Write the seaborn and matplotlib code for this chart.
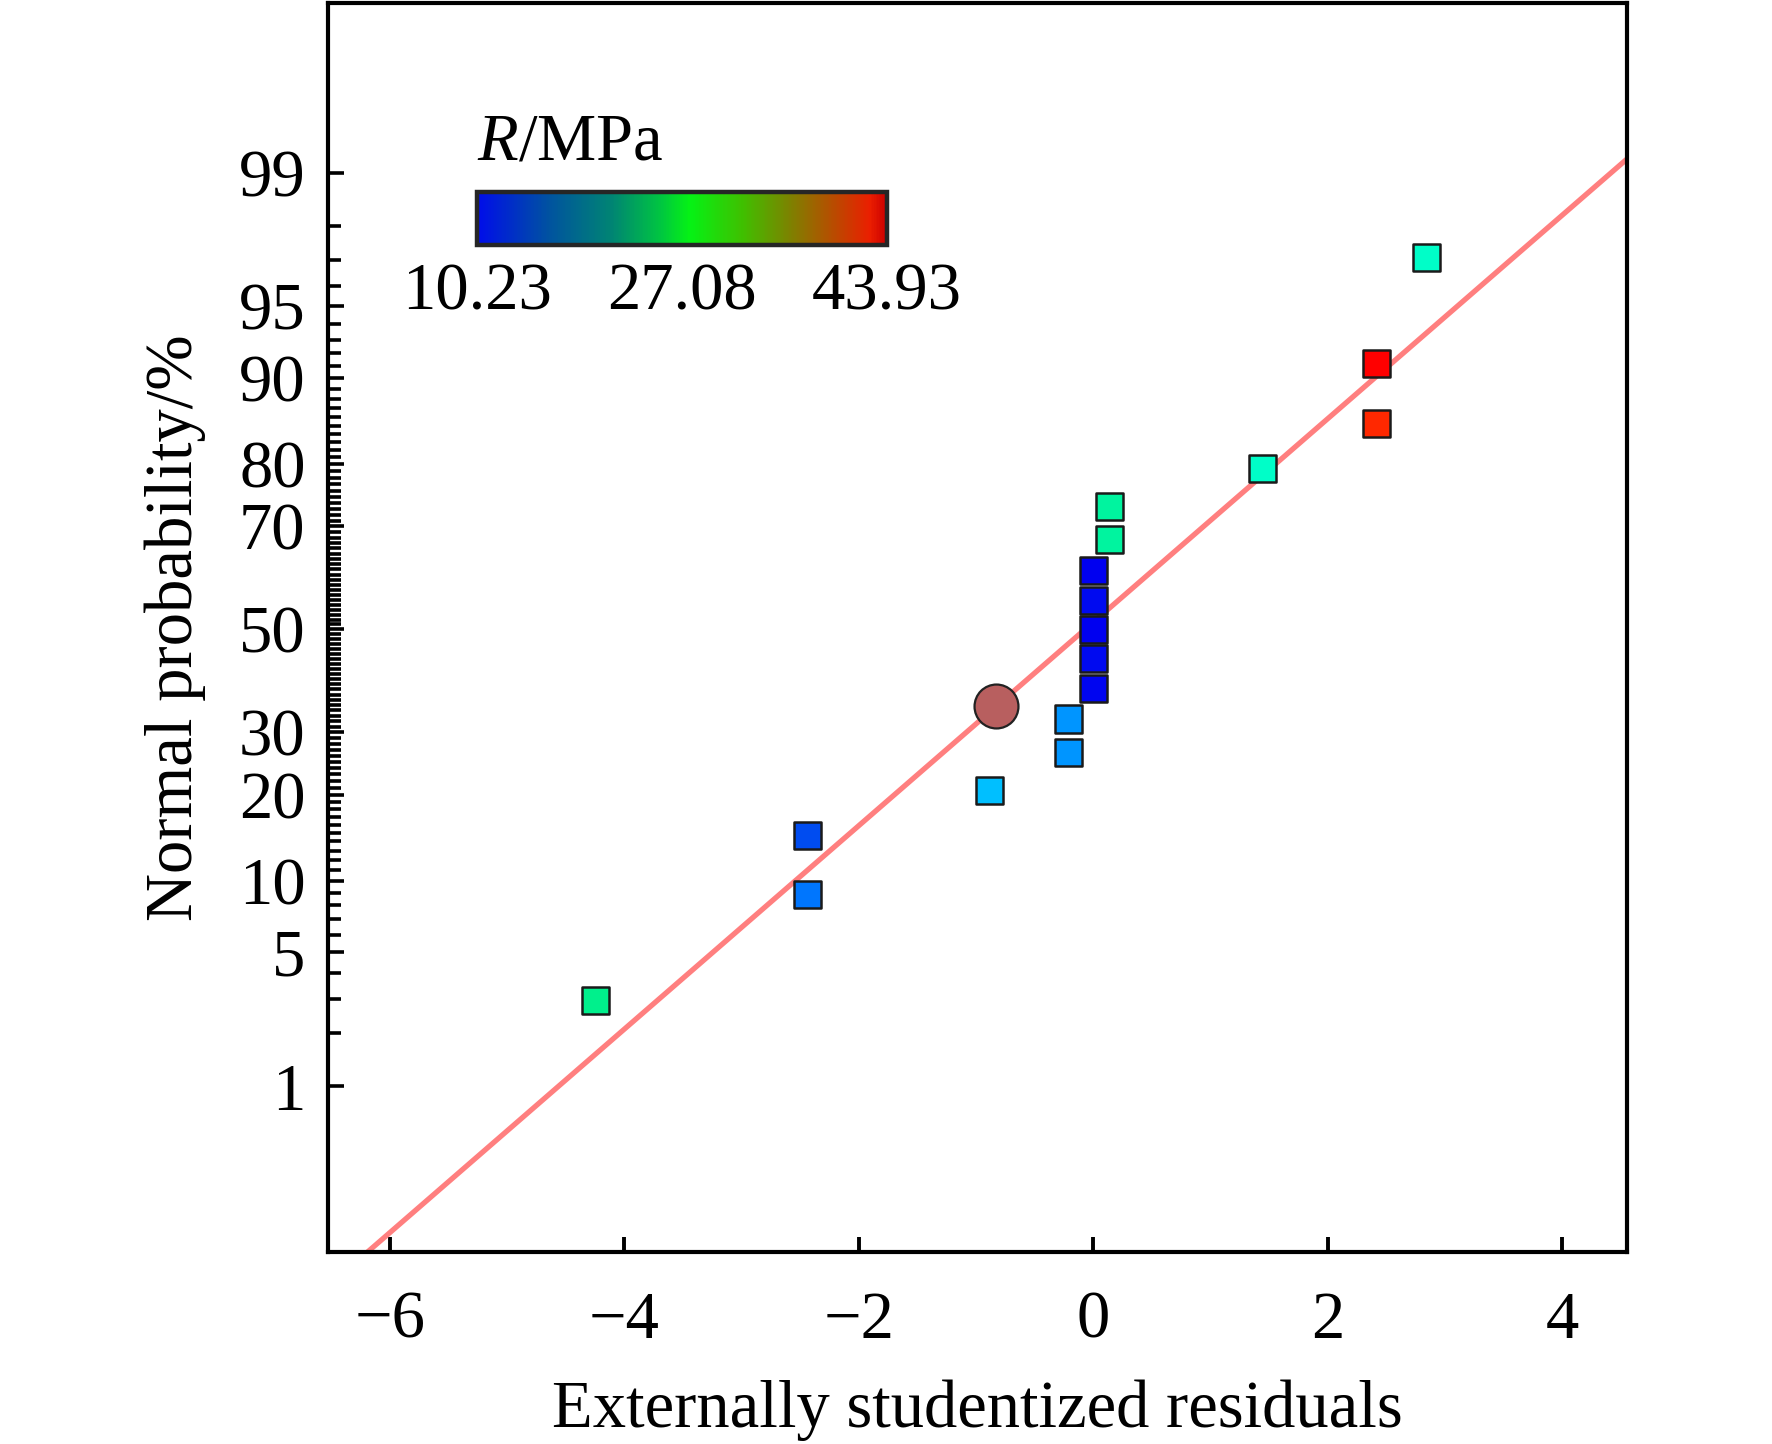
import math
import numpy as np
import pandas as pd
import matplotlib
matplotlib.use("Agg")
import matplotlib.pyplot as plt
import seaborn as sns
from matplotlib.colors import LinearSegmentedColormap, Normalize
from matplotlib.ticker import FixedLocator, FixedFormatter

# Externally studentized residuals and normal probability (%) of each run
residuals = [-4.25, -2.44, -2.44, -0.886, -0.212, -0.212, 0.0, 0.0, 0.0, 0.0, 0.0,
             0.135, 0.135, 1.445, 2.418, 2.418, 2.84]
probability = [2.94, 8.82, 14.7, 20.6, 26.5, 32.4, 38.2, 44.1, 50.0, 55.9, 61.8,
               67.6, 73.5, 79.4, 85.3, 91.2, 97.1]
# response R (MPa) used for the colour of each point
strength = [23.7, 13.6, 12.4, 17.0, 15.0, 15.0, 10.4, 10.6, 10.3, 10.5, 10.23,
            22.7, 22.7, 20.3, 40.6, 43.93, 20.3]

# highlighted point
circle_x = [-0.83]
circle_p = [34.9]

# fitted normal line (mean and sd of residuals)
line_mu = -0.071
line_sigma = 1.93

r_min, r_mid, r_max = 10.23, 27.08, 43.93
y_major = [1, 5, 10, 20, 30, 50, 70, 80, 90, 95, 99]
y_minor = list(range(1, 100))
x_ticks = [-6, -4, -2, 0, 2, 4]

_erf = np.vectorize(math.erf)


def norm_cdf(z):
    return 0.5 * (1 + _erf(np.asarray(z, float) / math.sqrt(2)))


def norm_ppf(q):
    # Acklam's rational approximation
    q = np.clip(np.asarray(q, float), 1e-12, 1 - 1e-12)
    a = [-3.969683028665376e+01, 2.209460984245205e+02, -2.759285104469687e+02,
         1.383577518672690e+02, -3.066479806614716e+01, 2.506628277459239e+00]
    b = [-5.447609879822406e+01, 1.615858368580409e+02, -1.556989798598866e+02,
         6.680131188771972e+01, -1.328068155288572e+01]
    c = [-7.784894002430293e-03, -3.223964580411365e-01, -2.400758277161838e+00,
         -2.549732539343734e+00, 4.374664141464968e+00, 2.938163982698783e+00]
    d = [7.784695709041462e-03, 3.224671290700398e-01, 2.445134137142996e+00,
         3.754408661907416e+00]
    lo, hi = 0.02425, 1 - 0.02425
    out = np.empty_like(q)
    m = q < lo
    t = np.sqrt(-2 * np.log(q[m]))
    out[m] = (((((c[0]*t+c[1])*t+c[2])*t+c[3])*t+c[4])*t+c[5]) / ((((d[0]*t+d[1])*t+d[2])*t+d[3])*t+1)
    m = q > hi
    t = np.sqrt(-2 * np.log(1 - q[m]))
    out[m] = -(((((c[0]*t+c[1])*t+c[2])*t+c[3])*t+c[4])*t+c[5]) / ((((d[0]*t+d[1])*t+d[2])*t+d[3])*t+1)
    m = (q >= lo) & (q <= hi)
    u = q[m] - 0.5
    r = u * u
    out[m] = (((((a[0]*r+a[1])*r+a[2])*r+a[3])*r+a[4])*r+a[5])*u / (((((b[0]*r+b[1])*r+b[2])*r+b[3])*r+b[4])*r+1)
    return out


def prob_fwd(p):
    return norm_ppf(np.asarray(p, float) / 100.0)


def prob_inv(z):
    return 100.0 * norm_cdf(z)


sns.set_theme(style="ticks")
plt.rcParams["font.family"] = ["Liberation Serif", "DejaVu Serif"]
plt.rcParams["mathtext.fontset"] = "custom"
plt.rcParams["mathtext.rm"] = "Liberation Serif"
plt.rcParams["mathtext.it"] = "Liberation Serif:italic"
plt.rcParams["axes.unicode_minus"] = True
plt.rcParams["text.color"] = "black"
plt.rcParams["axes.labelcolor"] = "black"
plt.rcParams["xtick.color"] = "black"
plt.rcParams["ytick.color"] = "black"

fs = 24

bar_cmap = LinearSegmentedColormap.from_list("bar", [
    (0.00, (0.00, 0.05, 0.92)),
    (0.18, (0.00, 0.33, 0.62)),
    (0.33, (0.00, 0.52, 0.45)),
    (0.45, (0.00, 0.78, 0.25)),
    (0.52, (0.02, 0.95, 0.08)),
    (0.65, (0.25, 0.75, 0.00)),
    (0.76, (0.48, 0.52, 0.00)),
    (0.87, (0.72, 0.30, 0.00)),
    (0.96, (0.92, 0.12, 0.00)),
    (1.00, (0.80, 0.00, 0.00)),
])
point_cmap = LinearSegmentedColormap.from_list("pts", [
    (0.00, (0.00, 0.00, 0.94)),
    (0.065, (0.00, 0.31, 0.94)),
    (0.10, (0.00, 0.47, 1.00)),
    (0.143, (0.00, 0.59, 1.00)),
    (0.20, (0.00, 0.75, 1.00)),
    (0.30, (0.00, 1.00, 0.78)),
    (0.40, (0.00, 0.94, 0.55)),
    (0.60, (0.50, 0.95, 0.00)),
    (0.80, (1.00, 0.60, 0.00)),
    (0.90, (1.00, 0.16, 0.00)),
    (1.00, (1.00, 0.00, 0.00)),
])

df = pd.DataFrame({"resid": residuals, "prob": probability, "R": strength})

fig = plt.figure(figsize=(8.86, 7.22), dpi=200)
ax = fig.add_axes([0.185, 0.133, 0.733, 0.865])
ax.set_yscale("function", functions=(prob_fwd, prob_inv))

# fitted line
xl = np.linspace(-7, 5, 400)
sns.lineplot(x=xl, y=prob_inv((xl - line_mu) / line_sigma), ax=ax,
             color="#FF7F7F", lw=1.9, zorder=2)

sns.scatterplot(data=df, x="resid", y="prob", hue="R", palette=point_cmap,
                hue_norm=(r_min, r_max), marker="s", s=95, edgecolor="#1a1a1a",
                linewidth=0.9, legend=False, ax=ax, zorder=3)
sns.scatterplot(x=circle_x, y=circle_p, color="#B85F5F", marker="o", s=250,
                edgecolor="#222222", linewidth=0.8, ax=ax, zorder=4)

ax.set_xlim(-6.53, 4.55)
ax.set_ylim(0.076, 99.929)

ax.xaxis.set_major_locator(FixedLocator(x_ticks))
ax.yaxis.set_major_locator(FixedLocator(y_major))
ax.yaxis.set_major_formatter(FixedFormatter([str(v) for v in y_major]))
ax.yaxis.set_minor_locator(FixedLocator(y_minor))
ax.xaxis.set_minor_locator(FixedLocator([]))

ax.tick_params(axis="x", direction="in", length=5.4, width=1.4, labelsize=fs,
               pad=14, top=False)
ax.tick_params(axis="y", which="major", direction="in", length=5.6, width=1.3,
               labelsize=fs, pad=8, right=False)
ax.tick_params(axis="y", which="minor", direction="in", length=4.5, width=1.3,
               right=False)
for sp in ax.spines.values():
    sp.set_visible(True)
    sp.set_linewidth(1.5)
    sp.set_color("black")

ax.set_xlabel("Externally studentized residuals", fontsize=fs, labelpad=10)
ax.set_ylabel("Normal probability/%", fontsize=fs, labelpad=12)

# colour bar
cax = fig.add_axes([0.269, 0.830, 0.2315, 0.0368])
sm = plt.cm.ScalarMappable(norm=Normalize(r_min, r_max), cmap=bar_cmap)
cb = fig.colorbar(sm, cax=cax, orientation="horizontal")
cb.set_ticks([r_min, r_mid, r_max])
cb.set_ticklabels([f"{r_min:.2f}", f"{r_mid:.2f}", f"{r_max:.2f}"])
cb.outline.set_linewidth(1.6)
cax.tick_params(length=0, labelsize=fs, pad=6)
cax.text(0.0, 1.35, r"$\mathit{R}$/MPa", transform=cax.transAxes,
         fontsize=fs, ha="left", va="bottom")

fig.savefig("out.png", dpi=200)
